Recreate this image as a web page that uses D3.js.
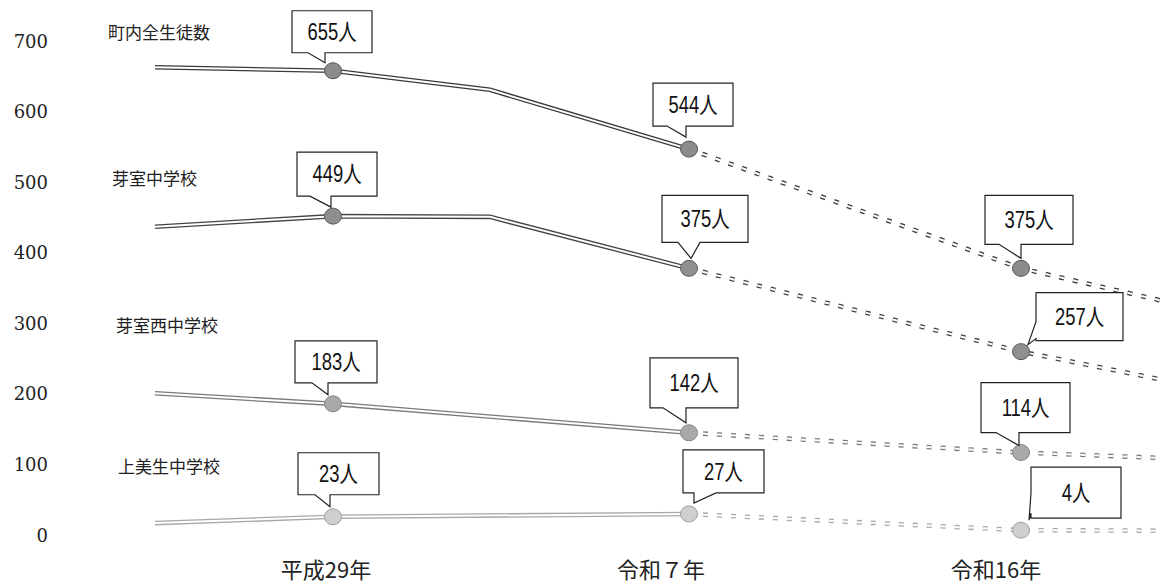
<!DOCTYPE html>
<html>
<head>
<meta charset="utf-8">
<script src="https://cdn.jsdelivr.net/npm/d3@7"></script>
<style>
body { margin: 0; background: #fff; }
</style>
</head>
<body>
<div id="chart-area"></div>
<script>
// years of the data columns (the line bends at 2021)
const years = [2013, 2017, 2021, 2025, 2034, 2039];
const labelYears = [2017, 2025, 2034];
const yearLabels = ["平成29年", "令和７年", "令和16年"];
const yTicks = [0, 100, 200, 300, 400, 500, 600, 700];

const seriesNames = ["町内全生徒数", "芽室中学校", "芽室西中学校", "上美生中学校"];

// students per year (null = no point in that column)
const totalValues = [660, 655, 628, 544, 375, 315];
const memuroValues = [434, 449, 448, 375, 257, 205];
const nishiValues = [198, 183, null, 142, 114, 104];
const kamibiValues = [14, 23, null, 27, 4, 3];

const allValues = [totalValues, memuroValues, nishiValues, kamibiValues];

// styles
const lineColors = ["#3a3a3a", "#444", "#7a7a7a", "#a8a8a8"];
const dotColors = ["#8c8c8c", "#8f8f8f", "#a9a9a9", "#cfcfcf"];
const dotStrokes = ["#555", "#5a5a5a", "#888", "#a0a0a0"];
const nameSpots = [[108, 39], [112, 185], [116, 332], [118, 473]];
const yearNudge = [-7, -28, -25];

// callout layout relative to each dot
const callouts = [
    [{dx: -41, dy: -60, w: 80, h: 42, side: "b", b1: -25, b2: -8, tx: -8, ty: -8},
     {dx: -36, dy: -66, w: 80, h: 43, side: "b", b1: -22, b2: -3, tx: -3, ty: -12},
     {dx: -36, dy: -73, w: 88, h: 49, side: "b", b1: -22, b2: 0, tx: 0, ty: -10}],
    [{dx: -36, dy: -64, w: 80, h: 44, side: "b", b1: -23, b2: -2, tx: -2, ty: -9},
     {dx: -27, dy: -73, w: 86, h: 47, side: "b", b1: -11, b2: 11, tx: 2, ty: -10},
     {dx: 15, dy: -59, w: 87, h: 48, side: "l", b1: -30, b2: -13, tx: 7, ty: -7}],
    [{dx: -38, dy: -63, w: 82, h: 42, side: "b", b1: -21, b2: -5, tx: -5, ty: -9},
     {dx: -39, dy: -75, w: 88, h: 50, side: "b", b1: -26, b2: -3, tx: -3, ty: -10},
     {dx: -40, dy: -70, w: 89, h: 50, side: "b", b1: -25, b2: -2, tx: -2, ty: -7}],
    [{dx: -35, dy: -64, w: 81, h: 42, side: "b", b1: -18, b2: -3, tx: -3, ty: -10},
     {dx: -6, dy: -64, w: 81, h: 43, side: "b", b1: 5, b2: 27, tx: 5, ty: -11},
     {dx: 10, dy: -63, w: 90, h: 51, side: "l", b1: -37, b2: -17, tx: 8, ty: -10}]
];

const width = 1162;
const height = 583;

const svg = d3.select("#chart-area")
    .append("svg")
    .attr("width", width)
    .attr("height", height);

// X Scale (piecewise, columns are not evenly spaced)
const x = d3.scaleLinear()
    .domain([2013, 2017, 2021, 2025, 2034])
    .range([155, 333, 490, 689, 1021]);

// Y Scale
const y = d3.scaleLinear()
    .domain([0, 700])
    .range([533, 39]);

// Y Axis (labels only)
const yAxisGroup = svg.append("g")
    .attr("transform", "translate(48,0)")
    .call(d3.axisLeft(y).tickValues(yTicks).tickSize(0).tickPadding(0));
yAxisGroup.select(".domain").remove();
yAxisGroup.selectAll("text")
    .attr("font-family", "'DejaVu Serif', 'Liberation Serif', serif")
    .attr("font-size", "18px")
    .attr("fill", "#222")
    .attr("dy", "0.45em");

// X labels
svg.selectAll(".year-label")
    .data(labelYears)
    .enter()
    .append("text")
    .attr("class", "year-label")
    .attr("x", function(d, i) { return x(d) + yearNudge[i]; })
    .attr("y", 578)
    .attr("text-anchor", "middle")
    .attr("font-family", "'Noto Sans CJK JP', sans-serif")
    .attr("font-size", "22px")
    .attr("fill", "#222")
    .text(function(d, i) { return yearLabels[i]; });

// series names
svg.selectAll(".series-name")
    .data(seriesNames)
    .enter()
    .append("text")
    .attr("class", "series-name")
    .attr("x", function(d, i) { return nameSpots[i][0]; })
    .attr("y", function(d, i) { return nameSpots[i][1]; })
    .attr("font-family", "'Noto Sans CJK JP', sans-serif")
    .attr("font-size", "17px")
    .attr("fill", "#222")
    .text(function(d) { return d; });

const line = d3.line()
    .x(function(d) { return x(d.year); })
    .y(function(d) { return y(d.value); });

// double lines: solid until 令和7年, dashed after
allValues.forEach(function(values, s) {
    const pts = years.map(function(yr, i) {
        return {year: yr, value: values[i]};
    }).filter(function(d) { return d.value !== null; });

    const past = pts.filter(function(d) { return d.year <= 2025; });
    const future = pts.filter(function(d) { return d.year >= 2025; });

    const g = svg.append("g");
    [[past, null], [future, "5 9"]].forEach(function(part) {
        g.append("path")
            .attr("d", line(part[0]))
            .attr("fill", "none")
            .attr("stroke", lineColors[s])
            .attr("stroke-width", 4.6)
            .attr("stroke-dasharray", part[1]);
        g.append("path")
            .attr("d", line(part[0]))
            .attr("fill", "none")
            .attr("stroke", "#fff")
            .attr("stroke-width", 2)
            .attr("stroke-dasharray", part[1]);
    });
});

// dots and callouts
allValues.forEach(function(values, s) {
    const marks = labelYears.map(function(yr) {
        return {year: yr, value: values[years.indexOf(yr)]};
    });

    svg.selectAll(".dot-" + s)
        .data(marks)
        .enter()
        .append("ellipse")
        .attr("class", "dot-" + s)
        .attr("cx", function(d) { return x(d.year); })
        .attr("cy", function(d) { return y(d.value); })
        .attr("rx", 8.5)
        .attr("ry", 8)
        .attr("fill", dotColors[s])
        .attr("stroke", dotStrokes[s])
        .attr("stroke-width", 1);

    marks.forEach(function(d, i) {
        const c = callouts[s][i];
        const cx = x(d.year);
        const cy = y(d.value);
        const x0 = cx + c.dx, y0 = cy + c.dy;
        const x1 = x0 + c.w, y1 = y0 + c.h;
        let p;
        if (c.side === "b") {
            p = "M" + x0 + "," + y0 + "H" + x1 + "V" + y1 +
                "H" + (cx + c.b2) + "L" + (cx + c.tx) + "," + (cy + c.ty) +
                "L" + (cx + c.b1) + "," + y1 + "H" + x0 + "Z";
        } else {
            p = "M" + x0 + "," + y0 + "H" + x1 + "V" + y1 + "H" + x0 +
                "V" + (cy + c.b2) + "L" + (cx + c.tx) + "," + (cy + c.ty) +
                "L" + x0 + "," + (cy + c.b1) + "Z";
        }
        svg.append("path")
            .attr("d", p)
            .attr("fill", "#fff")
            .attr("stroke", "#222")
            .attr("stroke-width", 1.2);

        // narrow label, like the original
        const tx = (x0 + x1) / 2;
        svg.append("text")
            .attr("transform", "translate(" + tx + "," + ((y0 + y1) / 2) + ") scale(0.8,1)")
            .attr("dy", "0.36em")
            .attr("text-anchor", "middle")
            .attr("font-family", "'Liberation Sans', 'Noto Sans CJK JP', sans-serif")
            .attr("font-size", "23px")
            .attr("fill", "#111")
            .text(d.value + "人");
    });
});
</script>
</body>
</html>
